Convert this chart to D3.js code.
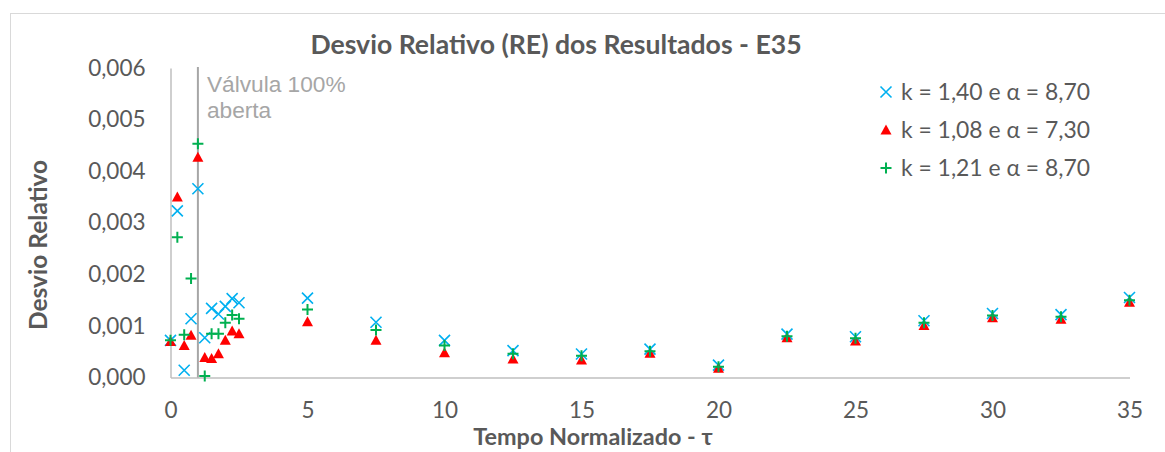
<!DOCTYPE html>
<html>
<head>
<meta charset="utf-8">
<script src="https://cdn.jsdelivr.net/npm/d3@7/dist/d3.min.js"></script>
<style>
  html, body { margin: 0; padding: 0; background: #fff; }
  svg { display: block; }
</style>
</head>
<body>
<svg id="chart" width="1165" height="452"></svg>
<script>
// Normalised time values (tau) shared by all three series
const tau = [0, 0.25, 0.5, 0.75, 1, 1.25, 1.5, 1.75, 2, 2.25, 2.5,
             5, 7.5, 10, 12.5, 15, 17.5, 20, 22.5, 25, 27.5, 30, 32.5, 35];

// Relative deviation, k = 1,40 and alpha = 8,70
const reK140 = [0.00072, 0.00323, 0.00014, 0.00114, 0.00366, 0.00077, 0.00134, 0.00123, 0.00138, 0.00153, 0.00145,
                0.00154, 0.00107, 0.00072, 0.00052, 0.000455, 0.00055, 0.00024, 0.00084, 0.00079, 0.0011, 0.00124, 0.00122, 0.00155];
// Relative deviation, k = 1,08 and alpha = 7,30
const reK108 = [0.0007, 0.0035, 0.00062, 0.00082, 0.00427, 0.00039, 0.00037, 0.00046, 0.00072, 0.0009, 0.00085,
                0.00108, 0.00072, 0.00048, 0.00036, 0.00034, 0.00047, 0.00018, 0.00077, 0.00071, 0.00101, 0.00116, 0.00113, 0.00146];
// Relative deviation, k = 1,21 and alpha = 8,70
const reK121 = [0.00072, 0.00272, 0.00083, 0.00192, 0.00453, 0.00003, 0.00085, 0.00085, 0.00106, 0.00121, 0.00114,
                0.00132, 0.00092, 0.00062, 0.00046, 0.00042, 0.00051, 0.00021, 0.0008, 0.00076, 0.00106, 0.0012, 0.00118, 0.0015];

const seriesNames = ["k = 1,40 e α = 8,70", "k = 1,08 e α = 7,30", "k = 1,21 e α = 8,70"];
const xTicks = [0, 5, 10, 15, 20, 25, 30, 35];
const yTicks = [0, 0.001, 0.002, 0.003, 0.004, 0.005, 0.006];
const valveTau = 1;
const titleText = "Desvio Relativo (RE) dos Resultados - E35";
const xTitle = "Tempo Normalizado - τ";
const yTitle = "Desvio Relativo";
const valveLabel = ["Válvula 100%", "aberta"];

const series = [
  { name: seriesNames[0], values: reK140, color: "#00b0f0", shape: "x" },
  { name: seriesNames[1], values: reK108, color: "#ff0000", shape: "tri" },
  { name: seriesNames[2], values: reK121, color: "#00b050", shape: "plus" }
];

const svg = d3.select("#chart");
const font = "Lato, 'Open Sans', sans-serif";
const textGrey = "#595959";

// Chart frame
svg.append("rect")
  .attr("x", 10.5).attr("y", 13.5)
  .attr("width", 1200).attr("height", 500)
  .attr("fill", "#fff").attr("stroke", "#d9d9d9").attr("stroke-width", 1);

const x = d3.scaleLinear().domain([0, 35]).range([170.5, 1129.5]);
const y = d3.scaleLinear().domain([0, 0.006]).range([377.5, 68]);

const locale = d3.formatLocale({ decimal: ",", thousands: ".", grouping: [3], currency: ["", ""] });
const fmtY = locale.format(".3f");

// X axis
const xAxis = svg.append("g")
  .attr("transform", `translate(0,${y(0)})`)
  .call(d3.axisBottom(x).tickValues(xTicks).tickSize(0).tickPadding(25).tickFormat(d3.format("d")));
xAxis.select(".domain").attr("stroke", "#bfbfbf").attr("stroke-width", 1.5);
xAxis.selectAll("text").attr("font-family", font).attr("font-size", 22.5).attr("fill", textGrey);

// Y axis
const yAxis = svg.append("g")
  .attr("transform", `translate(${x(0)},0)`)
  .call(d3.axisLeft(y).tickValues(yTicks).tickSize(0).tickPadding(25).tickFormat(fmtY));
yAxis.select(".domain").attr("stroke", "#bfbfbf").attr("stroke-width", 1.5);
yAxis.selectAll("text").attr("font-family", font).attr("font-size", 22.5).attr("fill", textGrey);

// Valve fully open marker
svg.append("line")
  .attr("x1", x(valveTau)).attr("x2", x(valveTau))
  .attr("y1", y(0.006) - 1).attr("y2", y(0))
  .attr("stroke", "#a6a6a6").attr("stroke-width", 2);
svg.append("text")
  .attr("x", x(valveTau) + 9).attr("y", 92)
  .attr("font-family", "'Liberation Sans', Arial, sans-serif")
  .attr("font-size", 22.7).attr("fill", "#a6a6a6")
  .selectAll("tspan").data(valveLabel).join("tspan")
  .attr("x", x(valveTau) + 9)
  .attr("dy", (d, i) => i === 0 ? 0 : 25.5)
  .text(d => d);

// Marker shapes
function markerPath(shape) {
  if (shape === "x") return "M-5.5,-5.5L5.5,5.5M-5.5,5.5L5.5,-5.5";
  if (shape === "plus") return "M-5.5,0L5.5,0M0,-5.5L0,5.5";
  return "M0,-5.5L5.5,4.5L-5.5,4.5Z";
}
function styleMarker(sel, s) {
  if (s.shape === "tri") {
    sel.attr("fill", s.color).attr("stroke", "none");
  } else {
    sel.attr("fill", "none").attr("stroke", s.color)
       .attr("stroke-width", s.shape === "x" ? 1.6 : 2);
  }
}

// Data points
series.forEach(s => {
  const pts = tau.map((t, i) => ({ t, v: s.values[i] }));
  svg.append("g").selectAll("path").data(pts).join("path")
    .attr("transform", d => `translate(${x(d.t)},${y(d.v)})`)
    .attr("d", markerPath(s.shape))
    .call(styleMarker, s);
});

// Legend
const legend = svg.append("g");
series.forEach((s, i) => {
  const ly = 92 + i * 38;
  legend.append("path")
    .attr("transform", `translate(886,${ly})`)
    .attr("d", markerPath(s.shape))
    .call(styleMarker, s);
  legend.append("text")
    .attr("x", 901).attr("y", ly)
    .attr("dy", "0.36em")
    .attr("font-family", font).attr("font-size", 22.9).attr("fill", textGrey)
    .text(s.name);
});

// Titles
svg.append("text")
  .attr("x", 556).attr("y", 54)
  .attr("text-anchor", "middle")
  .attr("font-family", font).attr("font-weight", "bold")
  .attr("font-size", 26.6).attr("fill", textGrey)
  .text(titleText);

svg.append("text")
  .attr("x", 593).attr("y", 445)
  .attr("text-anchor", "middle")
  .attr("font-family", font).attr("font-weight", "bold")
  .attr("font-size", 23.4).attr("fill", textGrey)
  .text(xTitle);

svg.append("text")
  .attr("transform", "translate(47,245) rotate(-90)")
  .attr("text-anchor", "middle")
  .attr("font-family", font).attr("font-weight", "bold")
  .attr("font-size", 24.5).attr("fill", textGrey)
  .text(yTitle);
</script>
</body>
</html>
